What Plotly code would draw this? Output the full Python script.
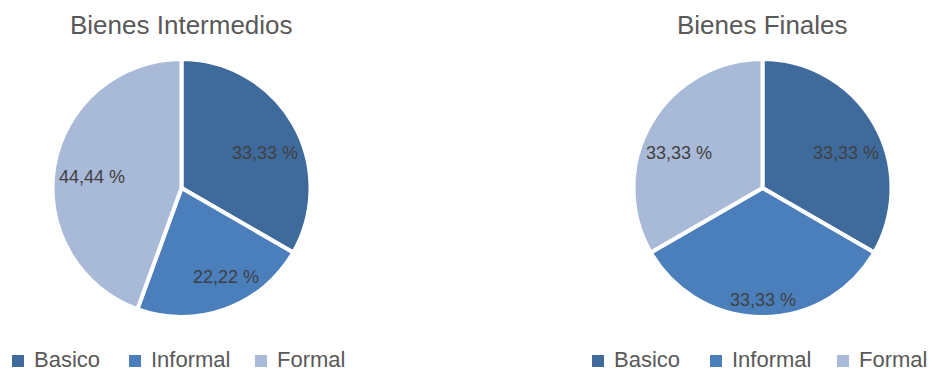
import math
import plotly.graph_objects as go

# Share of each product category (percent)
categories = ["Basico", "Informal", "Formal"]
intermedios = [33.33, 22.22, 44.44]
finales = [33.33, 33.33, 33.33]
titles = ["Bienes Intermedios", "Bienes Finales"]

colors = ["#3F6A9C", "#4B7FBC", "#A9BAD8"]
W, H = 934, 372
FONT = "Liberation Sans, Arial, sans-serif"

# pie geometry in pixels: centre x, centre y, radius
pies = [
    dict(values=intermedios, title=titles[0], cx=181.5, cy=188, r=129, legend_x=[12, 129, 255]),
    dict(values=finales, title=titles[1], cx=762.5, cy=188, r=129, legend_x=[592, 710, 837]),
]


def px_x(x):
    return x / W


def px_y(y):
    return 1 - y / H


def label_offset(theta_deg, r, half_w=33.5, half_h=9.0, squash=0.72):
    """Offset of a value label from the pie centre.

    The label heads out along the slice's mid angle (vertical part squashed a
    little) until the outer corner of its text box sits just inside the rim.
    """
    sx = math.sin(math.radians(theta_deg))
    sy = -math.cos(math.radians(theta_deg)) * squash
    n = math.hypot(sx, sy)
    sx, sy = sx / n, sy / n
    ax = half_w * (1 if sx >= 0 else -1)
    ay = half_h * (1 if sy >= 0 else -1)
    rim = 0.97 * r
    b = sx * ax + sy * ay
    c = ax * ax + ay * ay - rim * rim
    t = -b + math.sqrt(b * b - c)
    return t * sx, t * sy


fig = go.Figure()
annotations = []
shapes = []

for p in pies:
    cx, cy, r = p["cx"], p["cy"], p["r"]
    fig.add_trace(go.Pie(
        labels=categories,
        values=p["values"],
        sort=False,
        direction="clockwise",
        rotation=0,
        marker=dict(colors=colors, line=dict(color="white", width=4)),
        textinfo="none",
        hoverinfo="label+value",
        showlegend=False,
        domain=dict(x=[px_x(cx - r), px_x(cx + r)], y=[px_y(cy + r), px_y(cy - r)]),
    ))

    # value labels at each slice's mid angle
    total = sum(p["values"])
    start = 0.0
    for v in p["values"]:
        span = 360.0 * v / total
        mid = start + span / 2
        dx, dy = label_offset(mid, r)
        annotations.append(dict(
            text=f"{v:.2f} %".replace(".", ","),
            x=px_x(cx + dx), y=px_y(cy + dy), xref="paper", yref="paper",
            showarrow=False, xanchor="center", yanchor="middle",
            font=dict(family=FONT, size=18, color="#404040"),
        ))
        start += span

    # chart title
    annotations.append(dict(
        text=p["title"], x=px_x(cx), y=px_y(25), xref="paper", yref="paper",
        showarrow=False, xanchor="center", yanchor="middle",
        font=dict(family=FONT, size=26, color="#595959"),
    ))

    # legend: colour square + category name
    for name, col, lx in zip(categories, colors, p["legend_x"]):
        shapes.append(dict(
            type="rect", xref="paper", yref="paper",
            x0=px_x(lx), x1=px_x(lx + 12), y0=px_y(367), y1=px_y(355),
            fillcolor=col, line=dict(width=0),
        ))
        annotations.append(dict(
            text=name, x=px_x(lx + 20), y=px_y(359.5), xref="paper", yref="paper",
            showarrow=False, xanchor="left", yanchor="middle",
            font=dict(family=FONT, size=22, color="#595959"),
        ))

fig.update_layout(
    width=W,
    height=H,
    margin=dict(l=0, r=0, t=0, b=0),
    paper_bgcolor="white",
    plot_bgcolor="white",
    showlegend=False,
    annotations=annotations,
    shapes=shapes,
)

fig.write_html("out.html")
